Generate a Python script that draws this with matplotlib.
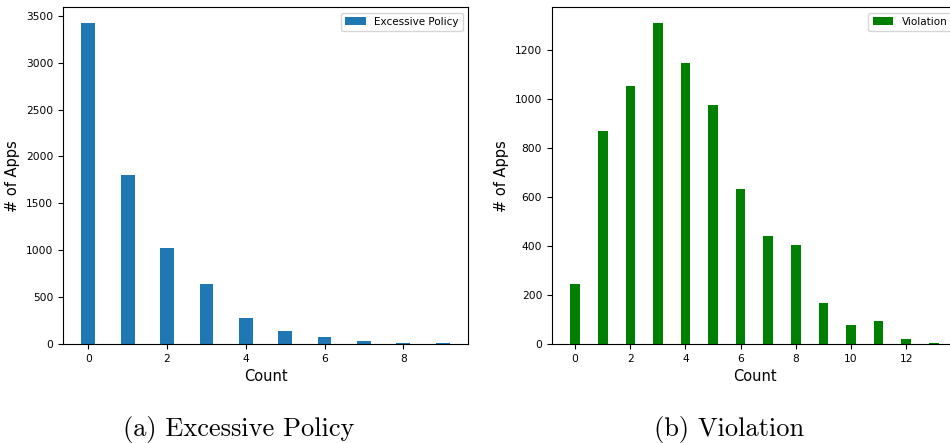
import numpy as np
import matplotlib
matplotlib.use("Agg")
import matplotlib.pyplot as plt

# Counts
policy_counts = [0, 1, 2, 3, 4, 5, 6, 7, 8, 9]
policy_apps = [3420, 1798, 1029, 638, 274, 142, 72, 34, 8, 8]

violation_counts = [0, 1, 2, 3, 4, 5, 6, 7, 8, 9, 10, 11, 12, 13]
violation_apps = [244, 867, 1052, 1307, 1144, 973, 630, 442, 404, 167, 79, 93, 20, 5]

fig = plt.figure(figsize=(9.5, 4.43), dpi=100)

ax1 = fig.add_axes([0.0663, 0.2235, 0.4263, 0.76])
ax2 = fig.add_axes([0.581, 0.2235, 0.4263, 0.76])

ax1.bar(policy_counts, policy_apps, width=0.35, color="#1f77b4", label="Excessive Policy")
ax2.bar(violation_counts, violation_apps, width=0.35, color="green", label="Violation")

for ax in (ax1, ax2):
    ax.set_xlabel("Count", fontsize=10.5)
    ax.set_ylabel("# of Apps", fontsize=10.5)
    ax.tick_params(labelsize=7.7)
    ax.legend(loc="upper right", fontsize=7.5)

# Subfigure captions
fig.text(0.251, 0.015, "(a) Excessive Policy", fontfamily="cmr10", fontsize=19, ha="center")
fig.text(0.767, 0.015, "(b) Violation", fontfamily="cmr10", fontsize=19, ha="center")

fig.savefig("out.png", dpi=100)
